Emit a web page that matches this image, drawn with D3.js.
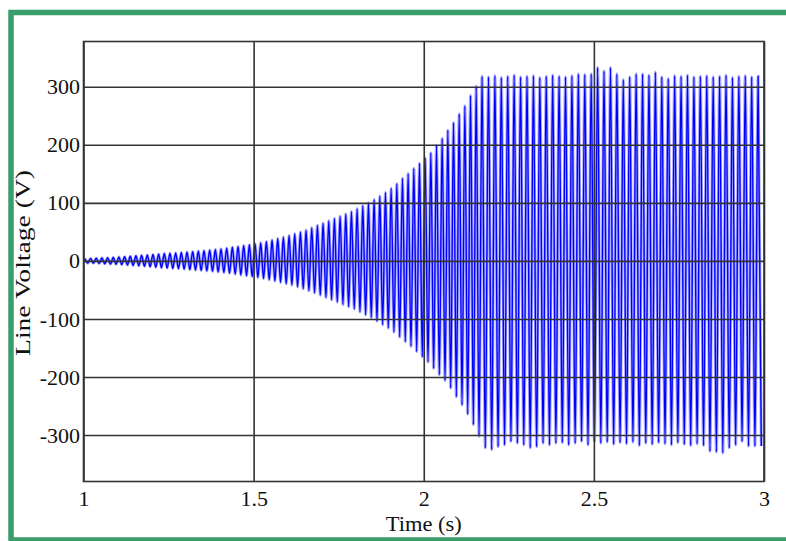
<!DOCTYPE html>
<html>
<head>
<meta charset="utf-8">
<script src="https://cdn.jsdelivr.net/npm/d3@7"></script>
<style>
  html, body { margin: 0; padding: 0; background: #ffffff; }
  svg { display: block; }
</style>
</head>
<body>
<svg id="chart" width="786" height="541"></svg>
<script>
// ---------------- DATA ----------------
const startTime = 1;            // s
const buildUpHz = 60;           // oscillation rate during voltage build-up
const steadyHz = 53;            // oscillation rate once voltage has settled

// peak voltages (V) of each cycle while the voltage builds up
const buildUpPos = [4, 4.3, 4.7, 5, 5.5, 6, 6.6, 7.2, 8, 8.8,
  9.6, 10.4, 11.2, 12, 12.8, 13.4, 13.8, 14.5, 15.2, 16,
  16.8, 17.6, 18.5, 19.5, 20.5, 22, 23.5, 25, 26.5, 28,
  29.5, 31.5, 33.5, 36, 38.5, 41, 44, 47, 50, 53,
  57, 61, 65, 69, 73, 77, 81, 85, 90, 95,
  100, 106, 112, 118, 125, 133, 142, 150, 159, 168,
  177, 186, 199, 211, 225, 238, 253, 267, 285, 301];
const buildUpNeg = [-3.8, -4.2, -4.5, -4.9, -5.3, -5.8, -6.4, -7, -7.7, -8.5,
  -9.3, -10.1, -10.9, -11.7, -12.4, -13, -13.5, -14.2, -14.9, -15.6,
  -16.4, -17.2, -18, -19, -20, -21.3, -22.8, -24.2, -25.6, -27,
  -28.6, -30.5, -32.5, -34.8, -37, -39.5, -42, -45, -48, -51.5,
  -55, -59, -63, -67, -71, -75, -79, -83, -88, -93,
  -98, -104, -110, -116, -123, -131, -139, -147, -156, -165,
  -174, -185, -196, -206, -219, -234, -248, -264, -282, -302];

// peak voltages (V) of each cycle in steady state
const steadyPos = [318, 317, 319, 316, 318, 320, 317, 318, 319, 316,
  318, 320, 318, 317, 319, 322, 321, 322, 333, 327,
  333, 322, 312, 317, 322, 322, 320, 325, 317, 314,
  319, 318, 320, 317, 318, 319, 317, 318, 320, 316,
  318, 319, 317, 318];
const steadyNeg = [-322, -325, -320, -317, -311, -314, -317, -322, -320, -314,
  -317, -314, -313, -317, -314, -311, -317, -311, -314, -312,
  -316, -313, -315, -312, -318, -314, -316, -313, -315, -317,
  -313, -316, -318, -315, -318, -328, -329, -331, -322, -317,
  -311, -319, -319, -319];

const xTicks = [1, 1.5, 2, 2.5, 3];
const xTickLabels = ["1", "1.5", "2", "2.5", "3"];
const yTicks = [-300, -200, -100, 0, 100, 200, 300];
const yTickLabels = ["-300", "-200", "-100", "0", "100", "200", "300"];
const xDomain = [1, 3];
const yDomain = [-380, 378];
const xTitle = "Time (s)";
const yTitle = "Line Voltage  (V)";

// ---------------- BUILD SERIES ----------------
const points = [];
buildUpPos.forEach((v, i) => {
  points.push([startTime + (i + 0.25) / buildUpHz, v]);
  points.push([startTime + (i + 0.75) / buildUpHz, buildUpNeg[i]]);
});
const steadyStart = startTime + buildUpPos.length / buildUpHz;
steadyPos.forEach((v, i) => {
  points.push([steadyStart + (i + 0.25) / steadyHz, v]);
  points.push([steadyStart + (i + 0.75) / steadyHz, steadyNeg[i]]);
});

// ---------------- LAYOUT ----------------
const svg = d3.select("#chart");
const L = 83.5, R = 764, T = 41.5, B = 481.5;
const W = R - L, H = B - T;
const font = "'Liberation Serif', 'Times New Roman', serif";

// green frame
svg.append("rect")
  .attr("x", 11).attr("y", 12.5)
  .attr("width", 800).attr("height", 527.5)
  .attr("fill", "none")
  .attr("stroke", "#3b9d6b")
  .attr("stroke-width", 5.5);

const x = d3.scaleLinear().domain(xDomain).range([L, R]);
const y = d3.scaleLinear().domain(yDomain).range([B, T]);

svg.append("clipPath").attr("id", "clip")
  .append("rect").attr("x", L).attr("y", T).attr("width", W).attr("height", H);

// signal
const line = d3.line()
  .x(d => x(d[0]))
  .y(d => y(d[1]))
  .curve(d3.curveMonotoneX);

const sig = svg.append("g").attr("clip-path", "url(#clip)");
sig.append("path")
  .datum(points)
  .attr("d", line)
  .attr("fill", "none")
  .attr("stroke", "#a8a8ff")
  .attr("stroke-width", 3);
sig.append("path")
  .datum(points)
  .attr("d", line)
  .attr("fill", "none")
  .attr("stroke", "#0000ff")
  .attr("stroke-width", 1.4);

// grid + axes
const gx = svg.append("g")
  .attr("transform", `translate(0,${B})`)
  .call(d3.axisBottom(x).tickValues(xTicks)
    .tickFormat((d, i) => xTickLabels[i])
    .tickSize(-H).tickPadding(9));
const gy = svg.append("g")
  .attr("transform", `translate(${L},0)`)
  .call(d3.axisLeft(y).tickValues(yTicks)
    .tickFormat((d, i) => yTickLabels[i])
    .tickSize(-W).tickPadding(3.5));

[gx, gy].forEach(g => {
  g.select(".domain").remove();
  g.selectAll(".tick line").attr("stroke", "#333").attr("stroke-width", 1.6);
  g.selectAll(".tick text")
    .attr("fill", "#111")
    .style("font-family", font)
    .style("font-size", "22px");
});

// frame
svg.append("rect")
  .attr("x", L).attr("y", T).attr("width", W).attr("height", H)
  .attr("fill", "none").attr("stroke", "#333").attr("stroke-width", 1.6);

// titles
svg.append("text")
  .attr("x", (L + R) / 2).attr("y", 531)
  .attr("text-anchor", "middle")
  .attr("fill", "#111")
  .style("font-family", font).style("font-size", "22px")
  .attr("textLength", 76).attr("lengthAdjust", "spacingAndGlyphs")
  .text(xTitle);

svg.append("text")
  .attr("transform", `translate(30,263) rotate(-90)`)
  .attr("text-anchor", "middle")
  .attr("fill", "#111")
  .style("font-family", font).style("font-size", "22px")
  .attr("textLength", 186).attr("lengthAdjust", "spacingAndGlyphs")
  .text(yTitle);
</script>
</body>
</html>
